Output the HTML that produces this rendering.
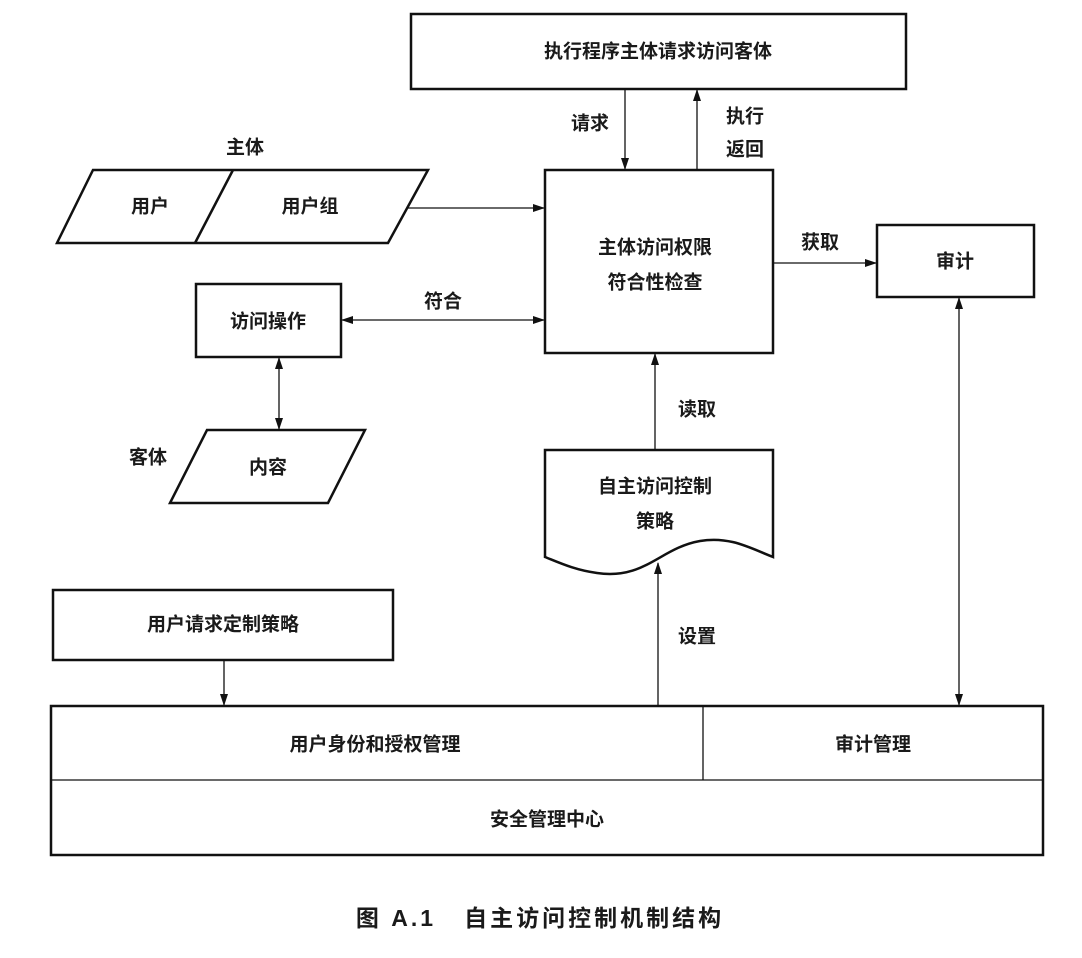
<!DOCTYPE html>
<html><head><meta charset="utf-8"><style>
html,body{margin:0;padding:0;background:#fff;}
svg{display:block;}
text{font-family:"Liberation Sans","Noto Sans CJK SC",sans-serif;font-size:19px;font-weight:600;fill:#1a1a1a;text-anchor:middle;dominant-baseline:central;}
</style></head><body>
<svg width="1082" height="958" viewBox="0 0 1082 958" xmlns="http://www.w3.org/2000/svg">
<defs>
<marker id="a" markerWidth="12" markerHeight="8" refX="11" refY="4" orient="auto-start-reverse" markerUnits="userSpaceOnUse">
<path d="M0,0 L12,4 L0,8 Z" fill="#111"/></marker>
</defs>
<g fill="none" stroke="#111" stroke-width="2.5">
<rect x="411" y="14" width="495" height="75"/>
<rect x="545" y="170" width="228" height="183"/>
<polygon points="93,170 428,170 388,243 57,243"/>
<line x1="233" y1="170" x2="195" y2="243"/>
<rect x="196" y="284" width="145" height="73"/>
<polygon points="207,430 365,430 328,503 170,503"/>
<rect x="877" y="225" width="157" height="72"/>
<path d="M545,557 L545,450 L773,450 L773,557 C750,548 730,536 700,541 C660,548 645,580 597,573 C575,570 560,563 545,557 Z"/>
<rect x="53" y="590" width="340" height="70"/>
<rect x="51" y="706" width="992" height="149"/>
</g>
<g stroke="#111" stroke-width="1.3" fill="none">
<line x1="51" y1="780" x2="1043" y2="780"/>
<line x1="703" y1="706" x2="703" y2="780"/>
<line x1="625" y1="89" x2="625" y2="169" marker-end="url(#a)"/>
<line x1="697" y1="170" x2="697" y2="90" marker-end="url(#a)"/>
<line x1="408" y1="208" x2="544" y2="208" marker-end="url(#a)"/>
<line x1="342" y1="320" x2="544" y2="320" marker-start="url(#a)" marker-end="url(#a)"/>
<line x1="279" y1="358" x2="279" y2="429" marker-start="url(#a)" marker-end="url(#a)"/>
<line x1="773" y1="263" x2="876" y2="263" marker-end="url(#a)"/>
<line x1="959" y1="298" x2="959" y2="705" marker-start="url(#a)" marker-end="url(#a)"/>
<line x1="655" y1="450" x2="655" y2="354" marker-end="url(#a)"/>
<line x1="658" y1="706" x2="658" y2="563" marker-end="url(#a)"/>
<line x1="224" y1="660" x2="224" y2="705" marker-end="url(#a)"/>
</g>
<text x="658" y="52">执行程序主体请求访问客体</text>
<text x="590" y="124">请求</text>
<text x="745" y="117">执行</text>
<text x="745" y="150">返回</text>
<text x="655" y="248">主体访问权限</text>
<text x="655" y="283">符合性检查</text>
<text x="245" y="148">主体</text>
<text x="150" y="207">用户</text>
<text x="310" y="207">用户组</text>
<text x="268" y="322">访问操作</text>
<text x="443" y="302">符合</text>
<text x="268" y="468">内容</text>
<text x="148" y="458">客体</text>
<text x="820" y="243">获取</text>
<text x="955" y="262">审计</text>
<text x="697" y="410">读取</text>
<text x="655" y="487">自主访问控制</text>
<text x="655" y="522">策略</text>
<text x="697" y="637">设置</text>
<text x="223" y="625">用户请求定制策略</text>
<text x="375" y="745">用户身份和授权管理</text>
<text x="873" y="745">审计管理</text>
<text x="547" y="820">安全管理中心</text>
<text x="540" y="918" style="font-size:23px;font-weight:700;letter-spacing:3px;" xml:space="preserve">图 A.1   自主访问控制机制结构</text>
</svg>
</body></html>
